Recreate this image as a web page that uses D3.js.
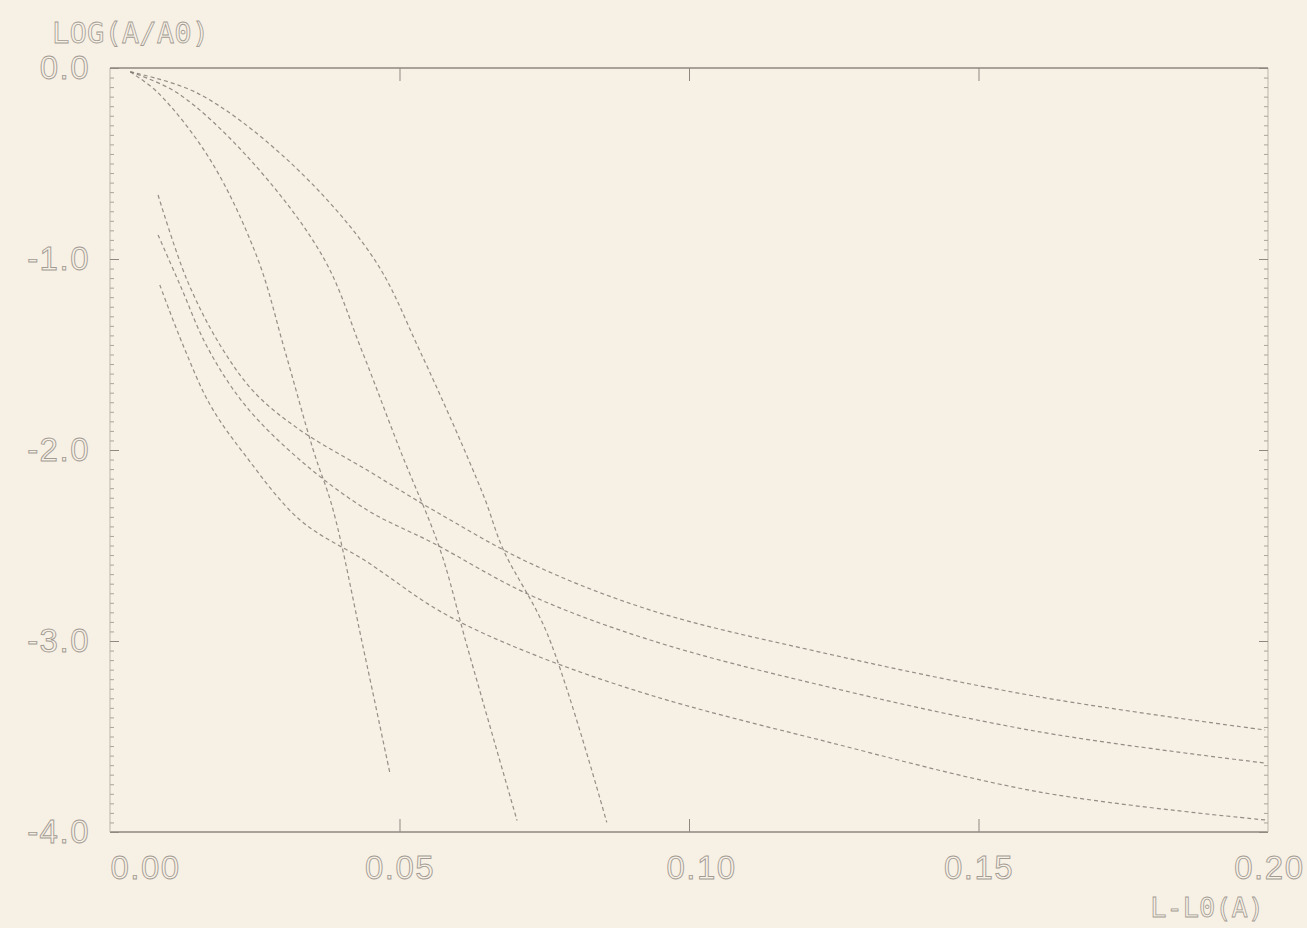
<!DOCTYPE html>
<html>
<head>
<meta charset="utf-8">
<script src="https://cdn.jsdelivr.net/npm/d3@7"></script>
<style>
  body { margin: 0; background: #f7f0e5; }
  svg { display: block; }
</style>
</head>
<body>
<div id="plot"></div>
<script>
// tick values and labels
var xTicks = [0, 0.05, 0.10, 0.15, 0.20];
var xTickLabels = ["0.00", "0.05", "0.10", "0.15", "0.20"];
var yTicks = [0, -1, -2, -3, -4];
var yTickLabels = ["0.0", "-1.0", "-2.0", "-3.0", "-4.0"];

// steep curves (L-L0, log(A/A0))
var curveA = [[0.0035,-0.02],[0.0083,-0.13],[0.0173,-0.48],[0.0254,-0.99],[0.0302,-1.48],[0.0351,-2.00],[0.0385,-2.31],[0.0437,-3.03],[0.0484,-3.70]];
var curveB = [[0.0035,-0.02],[0.0116,-0.13],[0.0242,-0.48],[0.0368,-0.99],[0.0435,-1.48],[0.0501,-2.00],[0.0570,-2.52],[0.0617,-3.03],[0.0703,-3.94]];
var curveC = [[0.0035,-0.02],[0.0150,-0.13],[0.0306,-0.48],[0.0454,-0.99],[0.0535,-1.48],[0.0644,-2.23],[0.0679,-2.52],[0.0755,-2.96],[0.0858,-3.95]];

// long tail curves
var curveD = [[0.0083,-0.665],[0.0133,-1.110],[0.0190,-1.450],[0.0250,-1.700],[0.0328,-1.895],[0.0444,-2.105],[0.0558,-2.314],[0.0725,-2.592],[0.0933,-2.838],[0.1226,-3.058],[0.1606,-3.293],[0.1995,-3.466]];
var curveE = [[0.0083,-0.874],[0.0121,-1.136],[0.0168,-1.461],[0.0233,-1.764],[0.0328,-2.052],[0.0444,-2.314],[0.0558,-2.487],[0.0725,-2.759],[0.0933,-2.995],[0.1226,-3.230],[0.1606,-3.476],[0.1995,-3.639]];
var curveF = [[0.0086,-1.136],[0.0126,-1.450],[0.0173,-1.764],[0.0233,-2.026],[0.0328,-2.366],[0.0444,-2.586],[0.0575,-2.853],[0.0725,-3.063],[0.0933,-3.283],[0.1226,-3.518],[0.1606,-3.791],[0.1995,-3.937]];

var allCurves = [curveA, curveB, curveC, curveD, curveE, curveF];

var W = 1307, H = 928;
var margin = {top: 68, right: 39, bottom: 96, left: 110};

var svg = d3.select("#plot")
    .append("svg")
        .attr("width", W)
        .attr("height", H)
        .style("font-family", "'DejaVu Sans Mono', 'Liberation Mono', monospace");

svg.append("rect")
    .attr("width", W).attr("height", H)
    .attr("fill", "#f7f0e5");

var x = d3.scaleLinear()
    .domain([0, 0.2])
    .range([margin.left, W - margin.right]);
var y = d3.scaleLinear()
    .domain([0, -4])
    .range([margin.top, H - margin.bottom]);

var ink = "#8f8982";

// frame
svg.append("line")
    .attr("x1", x(0)).attr("x2", x(0.2)).attr("y1", y(0)).attr("y2", y(0))
    .attr("stroke", ink).attr("stroke-width", 1.6);
svg.append("line")
    .attr("x1", x(0)).attr("x2", x(0.2)).attr("y1", y(-4)).attr("y2", y(-4))
    .attr("stroke", ink).attr("stroke-width", 1.6);
svg.append("line")
    .attr("x1", x(0)).attr("x2", x(0)).attr("y1", y(0)).attr("y2", y(-4))
    .attr("stroke", "#bdb5ab").attr("stroke-width", 1);
svg.append("line")
    .attr("x1", x(0.2)).attr("x2", x(0.2)).attr("y1", y(0)).attr("y2", y(-4))
    .attr("stroke", "#bdb5ab").attr("stroke-width", 1);

// minor ticks left and right
var minor = y.ticks(80);
svg.append("g")
    .attr("transform", "translate(" + x(0) + ",0)")
    .call(d3.axisRight(y).tickValues(minor).tickSize(4).tickFormat(""))
    .call(function(g){ g.select(".domain").remove(); })
    .selectAll("line").attr("stroke", "#aaa39a");
svg.append("g")
    .attr("transform", "translate(" + x(0.2) + ",0)")
    .call(d3.axisLeft(y).tickValues(minor).tickSize(4).tickFormat(""))
    .call(function(g){ g.select(".domain").remove(); })
    .selectAll("line").attr("stroke", "#aaa39a");

// major ticks
[[d3.axisRight(y).tickValues(yTicks), x(0)], [d3.axisLeft(y).tickValues(yTicks), x(0.2)]].forEach(function(a){
  svg.append("g")
      .attr("transform", "translate(" + a[1] + ",0)")
      .call(a[0].tickSize(9).tickFormat(""))
      .call(function(g){ g.select(".domain").remove(); })
      .selectAll("line").attr("stroke", ink);
});
svg.append("g")
    .attr("transform", "translate(0," + y(-4) + ")")
    .call(d3.axisTop(x).tickValues(xTicks.slice(1, 4)).tickSize(13).tickFormat(""))
    .call(function(g){ g.select(".domain").remove(); })
    .selectAll("line").attr("stroke", ink);
svg.append("g")
    .attr("transform", "translate(0," + y(0) + ")")
    .call(d3.axisBottom(x).tickValues(xTicks.slice(1, 4)).tickSize(13).tickFormat(""))
    .call(function(g){ g.select(".domain").remove(); })
    .selectAll("line").attr("stroke", ink);

// y tick labels
var yAxis = svg.append("g")
    .attr("transform", "translate(" + x(0) + ",0)")
    .call(d3.axisLeft(y).tickValues(yTicks).tickSize(0).tickPadding(20)
        .tickFormat(function(d, i){ return yTickLabels[i]; }));
yAxis.select(".domain").remove();

// x tick labels
var xAxis = svg.append("g")
    .attr("transform", "translate(0," + y(-4) + ")")
    .call(d3.axisBottom(x).tickValues(xTicks).tickSize(0).tickPadding(24)
        .tickFormat(function(d, i){ return xTickLabels[i]; }));
xAxis.select(".domain").remove();
xAxis.selectAll("text")
    .attr("text-anchor", function(d, i){
        if (i === 0) return "start";
        if (i === xTicks.length - 1) return "end";
        return "middle";
    })
    .attr("dx", function(d, i){ return i === xTicks.length - 1 ? 36 : (i === 2 ? 12 : 0); });

svg.selectAll(".tick text")
    .style("font-size", "33px")
    .style("letter-spacing", "1.5px")
    .attr("fill", "none")
    .attr("stroke", "#a29b93")
    .attr("stroke-width", 0.9);

// axis titles
svg.append("text")
    .attr("x", 52).attr("y", 43)
    .style("font-size", "29px")
    .attr("fill", "none").attr("stroke", "#a29b93").attr("stroke-width", 0.8)
    .text("LOG(A/A0)");
svg.append("text")
    .attr("x", 1264).attr("y", 917)
    .attr("text-anchor", "end")
    .style("font-size", "27px")
    .attr("fill", "none").attr("stroke", "#a29b93").attr("stroke-width", 0.8)
    .text("L-L0(A)");

// curves
var line = d3.line()
    .x(function(d){ return x(d[0]); })
    .y(function(d){ return y(d[1]); })
    .curve(d3.curveCatmullRom.alpha(0.5));

svg.append("g")
    .selectAll("path")
    .data(allCurves)
    .enter()
    .append("path")
        .attr("d", line)
        .attr("fill", "none")
        .attr("stroke", "#837d76")
        .attr("stroke-width", 1.2)
        .attr("stroke-dasharray", "4,3")
        .attr("opacity", 0.85);
</script>
</body>
</html>
